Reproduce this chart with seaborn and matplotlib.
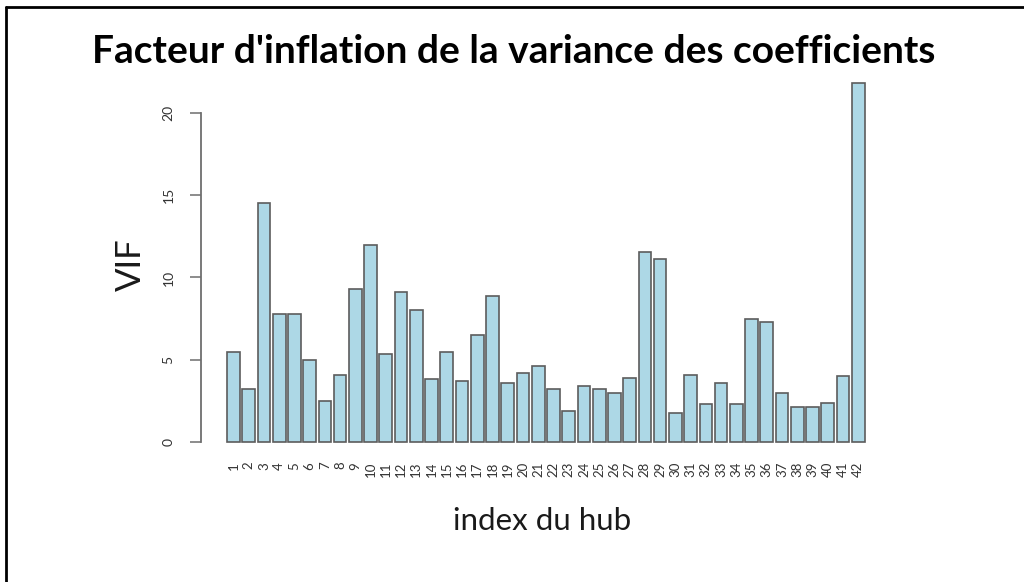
import matplotlib
matplotlib.use('Agg')
import matplotlib.pyplot as plt
from matplotlib.lines import Line2D
import seaborn as sns

# VIF per hub
hub = [str(i) for i in range(1, 43)]
vif = [5.5, 3.2, 14.5, 7.8, 7.8, 5.0, 2.5, 4.1, 9.3, 12.0,
       5.35, 9.1, 8.05, 3.85, 5.5, 3.7, 6.5, 8.85, 3.57, 4.2,
       4.6, 3.2, 1.9, 3.4, 3.2, 3.0, 3.9, 11.55, 11.15, 1.75,
       4.1, 2.3, 3.6, 2.3, 7.45, 7.3, 2.95, 2.15, 2.1, 2.4,
       4.0, 21.8]
yticks = [0, 5, 10, 15, 20]

title = "Facteur d'inflation de la variance des coefficients"
xlabel = "index du hub"
ylabel = "VIF"

sns.set_style('white')
plt.rcParams['font.family'] = ['Lato', 'DejaVu Sans']

W, H = 1024, 582
fig = plt.figure(figsize=(W / 100, H / 100), dpi=100)
# axes placed in pixel terms to mimic the R layout
ax_l, ax_r, ax_t, ax_b = 201, 891, 68.7, 456.3
ax = fig.add_axes([ax_l / W, 1 - ax_b / H, (ax_r - ax_l) / W, (ax_b - ax_t) / H])

sns.barplot(x=hub, y=vif, order=hub, color='#add8e6', saturation=1,
            edgecolor='#5c5c5c', linewidth=1.2, width=0.833, ax=ax)

ax.set_xlim(-2.13, 43.15)
ax.set_ylim(-0.87, 22.69)

for s in ['top', 'right', 'bottom']:
    ax.spines[s].set_visible(False)
ax.spines['left'].set_bounds(0, 20)
ax.spines['left'].set_color('#6e6e6e')
ax.spines['left'].set_linewidth(1.3)

ax.set_yticks(yticks)
ax.set_yticklabels([str(v) for v in yticks], rotation=90, va='center', fontsize=10, color='#333333')
ax.tick_params(axis='y', length=8, width=1.1, color='#6e6e6e', pad=11, left=True)
ax.tick_params(axis='x', length=0, pad=4, labelsize=9.5, labelcolor='#333333')
for lab in ax.get_xticklabels():
    lab.set_rotation(90)
    lab.set_va('top')
    lab.set_ha('center')

ax.set_xlabel(xlabel, fontsize=22.5, color='#1a1a1a')
ax.xaxis.set_label_coords(0.494, -0.13)
ax.set_ylabel(ylabel, fontsize=25, color='#1a1a1a')
ax.yaxis.set_label_coords(-0.078, 0.494)

fig.text(513.5 / W, 1 - 63 / H, title, ha='center', va='baseline',
         fontsize=28, fontweight='bold', color='black')

# partial frame seen at the left and top edges of the reference
fig.add_artist(Line2D([5.5 / W, 5.5 / W], [0, 1 - 6.5 / H], transform=fig.transFigure,
                      color='black', lw=2))
fig.add_artist(Line2D([5.5 / W, 1], [1 - 6.5 / H, 1 - 6.5 / H], transform=fig.transFigure,
                      color='black', lw=2))

fig.savefig('out.png', dpi=100)
